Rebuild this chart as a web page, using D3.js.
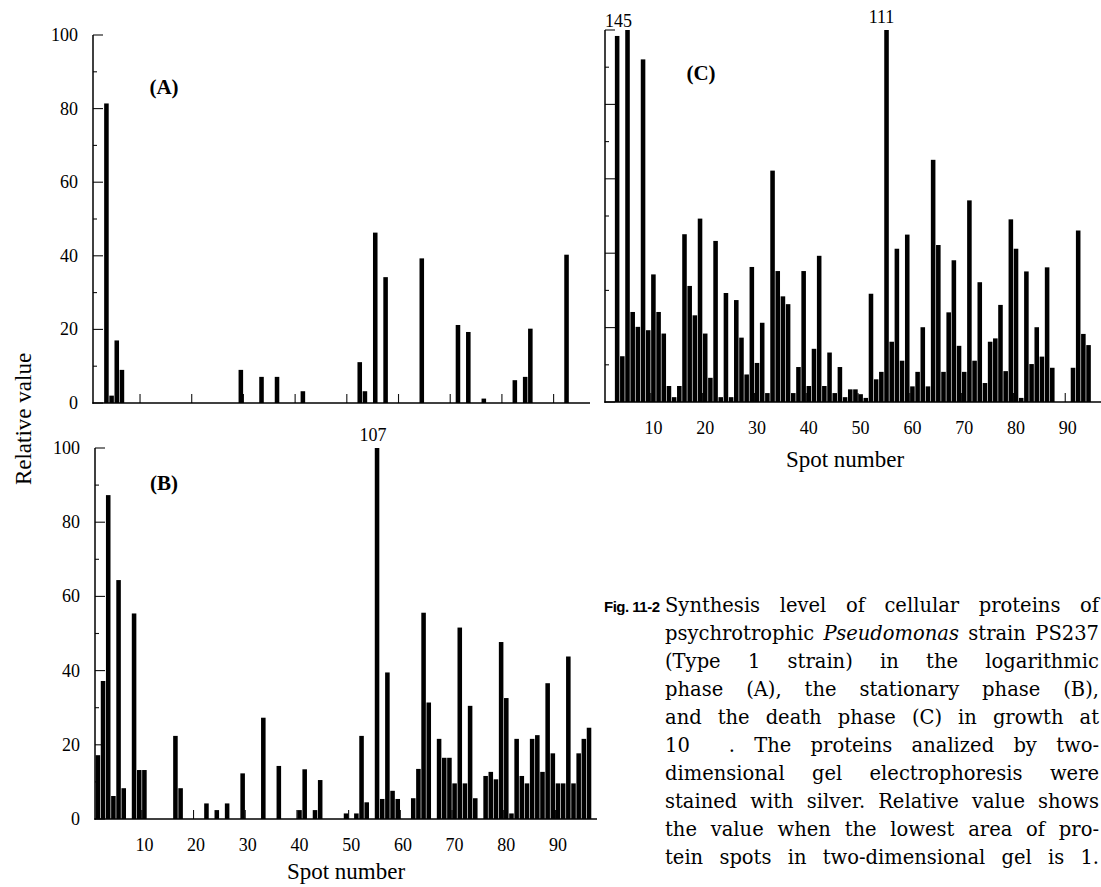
<!DOCTYPE html>
<html><head><meta charset="utf-8">
<script src="https://cdn.jsdelivr.net/npm/d3@7"></script>
<style>body{margin:0;background:#fff}svg{display:block}</style>
</head><body>
<svg id="fig" width="1101" height="887"></svg>
<script>
// ---------- data ----------
const spotNumbers = d3.range(1, 97);          // x categories (spot numbers 1..96)
const xTickValues = [10, 20, 30, 40, 50, 60, 70, 80, 90];
const yTickValues = [0, 10, 20, 30, 40, 50, 60, 70, 80, 90, 100];
const yLabelValues = [0, 20, 40, 60, 80, 100];

// (A) logarithmic phase
const spotsA  = [3, 4, 5, 6, 29, 33, 36, 41, 52, 53, 55, 57, 64, 71, 73, 76, 82, 84, 85, 92];
const valuesA = [81.4, 2, 17, 9, 9, 7.1, 7.1, 3.2, 11.1, 3.2, 46.3, 34.2, 39.3, 21.2, 19.3, 1.2, 6.2, 7.1, 20.2, 40.3];

// (B) stationary phase
const spotsB  = [1, 2, 3, 4, 5, 6, 8, 9, 10, 16, 17, 22, 24, 26, 29, 33, 36, 40, 41, 43, 44,
                 49, 51, 52, 53, 55, 56, 57, 58, 59, 62, 63, 64, 65, 67, 68, 69, 70, 71, 72, 73, 74,
                 76, 77, 78, 79, 80, 81, 82, 83, 84, 85, 86, 87, 88, 89, 90, 91, 92, 93, 94, 95, 96];
const valuesB = [17.2, 37.2, 87.3, 6.2, 64.4, 8.3, 55.4, 13.2, 13.2, 22.4, 8.3, 4.2, 2.4, 4.2, 12.3, 27.3, 14.3, 2.4, 13.4, 2.4, 10.5,
                 1.5, 1.5, 22.4, 4.5, 107, 5.4, 39.5, 7.6, 5.4, 5.6, 13.5, 55.6, 31.4, 21.6, 16.5, 16.5, 9.6, 51.6, 9.6, 30.5, 5.6,
                 11.6, 12.7, 10.7, 47.7, 32.6, 1.5, 21.6, 11.6, 9.6, 21.6, 22.6, 12.7, 36.6, 17.7, 9.6, 9.6, 43.8, 9.6, 17.7, 21.6, 24.6];

// (C) death phase
const spotsC  = [3, 4, 5, 6, 7, 8, 9, 10, 11, 12, 13, 14, 15, 16, 17, 18, 19, 20, 21, 22, 23, 24, 25, 26, 27, 28, 29, 30,
                 31, 32, 33, 34, 35, 36, 37, 38, 39, 40, 41, 42, 43, 44, 45, 46, 47, 48, 49, 50, 51, 52, 53, 54, 55, 56, 57, 58,
                 59, 60, 61, 62, 63, 64, 65, 66, 67, 68, 69, 70, 71, 72, 73, 74, 75, 76, 77, 78, 79, 80, 81, 82, 83, 84, 85, 86, 87,
                 91, 92, 93, 94];
const valuesC = [98.4, 12.3, 145, 24.2, 20.2, 92.1, 19.3, 34.3, 24.2, 18.4, 4.3, 1.3, 4.3, 45.1, 31.2, 23.3, 49.3, 18.4, 6.5, 43.3, 1.3, 29.3, 1.3, 27.4, 17.3, 7.4, 36.3, 10.5,
                 21.3, 2.4, 62.2, 35.2, 28.4, 26.3, 2.4, 9.4, 35.2, 4.3, 14.3, 39.3, 4.3, 13.3, 2.4, 9.4, 1.3, 3.4, 3.4, 2.1, 1.1, 29.1, 6.1, 8.1, 111, 16.2, 41.2, 11.1,
                 45.0, 4.2, 8.1, 20.1, 4.2, 65.1, 42.2, 8.1, 24.1, 38.1, 15.1, 8.1, 54.2, 11.1, 32.2, 5.1, 16.2, 17.1, 26.1, 8.3, 49.1, 41.2, 1.1, 35.1, 10.2, 20.1, 12.2, 36.2, 9.2,
                 9.2, 46.1, 18.3, 15.3];

const panelNames = ["(A)", "(B)", "(C)"];
const axisTitleX = "Spot number";
const axisTitleY = "Relative value";

const captionLabel = "Fig. 11-2";
const captionLines = [
  "Synthesis level of cellular proteins of",
  "psychrotrophic *Pseudomonas* strain PS237",
  "(Type 1 strain) in the logarithmic",
  "phase (A), the stationary phase (B),",
  "and the death phase (C) in growth at",
  "10\u2003\u2003. The proteins analized by two-",
  "dimensional gel electrophoresis were",
  "stained with silver. Relative value shows",
  "the value when the lowest area of pro-",
  "tein spots in two-dimensional gel is 1."
];

// ---------- layout ----------
const layout = {
  A: {x0: 93.5, x1: 589.8, yb: 403, yt: 35, ax: 93, baseEnd: 590, yLabels: true, xLabels: false,
      name: {x: 164, y: 94}},
  B: {x0: 95.3, x1: 591.6, yb: 819, yt: 448, ax: 95, baseEnd: 597, yLabels: true, xLabels: true,
      name: {x: 164, y: 490}, title: {x: 346, y: 879}},
  C: {x0: 604.2, x1: 1101.5, yb: 402, yt: 30, ax: 605, baseEnd: 1101, yLabels: false, xLabels: true,
      name: {x: 701, y: 80}, title: {x: 845, y: 467}}
};
const overflowLabels = [
  {panel: "B", spot: 55, dx: -4, dy: -7},
  {panel: "C", spot: 5, dx: -9, dy: -3},
  {panel: "C", spot: 55, dx: -5, dy: -7}
];

const SERIF = "'Liberation Serif','Times New Roman',serif";
const svg = d3.select("#fig");

function drawPanel(key, spots, values, nameIdx) {
  const L = layout[key];
  const g = svg.append("g");
  const x = d3.scaleBand().domain(spotNumbers).range([L.x0, L.x1]).paddingInner(0.12).paddingOuter(0.06);
  const y = d3.scaleLinear().domain([0, 100]).range([L.yb, L.yt]).clamp(true);
  const data = spots.map((s, i) => ({spot: s, value: values[i]}));

  // y ticks (inward)
  g.selectAll("line.yt").data(yTickValues).join("line")
    .attr("x1", L.ax).attr("x2", d => L.ax + (d % 20 === 0 ? 10 : 4))
    .attr("y1", d => y(d)).attr("y2", d => y(d))
    .attr("stroke", "#111").attr("stroke-width", 1.1);
  // x ticks (inward, at band boundaries)
  g.selectAll("line.xt").data(xTickValues).join("line")
    .attr("x1", d => x(d) + x.bandwidth() / 2 - x.step() / 2)
    .attr("x2", d => x(d) + x.bandwidth() / 2 - x.step() / 2)
    .attr("y1", L.yb).attr("y2", L.yb - 9)
    .attr("stroke", "#111").attr("stroke-width", 1.1);

  // bars
  g.selectAll("rect.bar").data(data).join("rect")
    .attr("x", d => x(d.spot)).attr("width", x.bandwidth())
    .attr("y", d => y(d.value)).attr("height", d => L.yb - y(d.value))
    .attr("fill", "#000");

  // axis lines
  g.append("line").attr("x1", L.ax).attr("x2", L.ax).attr("y1", L.yt).attr("y2", L.yb + 0.8)
    .attr("stroke", "#000").attr("stroke-width", 1.5);
  g.append("line").attr("x1", L.ax - 0.7).attr("x2", L.baseEnd).attr("y1", L.yb).attr("y2", L.yb)
    .attr("stroke", "#000").attr("stroke-width", 1.7);

  if (L.yLabels) {
    g.selectAll("text.yl").data(yLabelValues).join("text")
      .attr("x", L.ax - 15).attr("y", d => y(d) + 6)
      .attr("text-anchor", "end").attr("font-family", SERIF).attr("font-size", 18)
      .text(d => d);
  }
  if (L.xLabels) {
    g.selectAll("text.xl").data(xTickValues).join("text")
      .attr("x", d => x(d) + x.bandwidth() / 2).attr("y", L.yb + 32)
      .attr("text-anchor", "middle").attr("font-family", SERIF).attr("font-size", 18)
      .text(d => d);
    g.append("text").attr("x", L.title.x).attr("y", L.title.y)
      .attr("text-anchor", "middle").attr("font-family", SERIF).attr("font-size", 23)
      .text(axisTitleX);
  }
  g.append("text").attr("x", L.name.x).attr("y", L.name.y)
    .attr("text-anchor", "middle").attr("font-family", SERIF).attr("font-size", 21)
    .attr("font-weight", "bold").text(panelNames[nameIdx]);

  // values above clipped bars
  overflowLabels.filter(o => o.panel === key).forEach(o => {
    const v = values[spots.indexOf(o.spot)];
    g.append("text").attr("x", x(o.spot) + x.bandwidth() / 2 + o.dx).attr("y", y(v) + o.dy)
      .attr("text-anchor", "middle").attr("font-family", SERIF).attr("font-size", 18)
      .text(v);
  });
}

drawPanel("A", spotsA, valuesA, 0);
drawPanel("B", spotsB, valuesB, 1);
drawPanel("C", spotsC, valuesC, 2);

// y axis title
svg.append("text").attr("transform", "translate(31,419) rotate(-90)")
  .attr("text-anchor", "middle").attr("font-family", SERIF).attr("font-size", 23)
  .text(axisTitleY);

// caption
const capX = 665, capY0 = 612, capStep = 28, capEnd = 1099;
svg.append("text").attr("x", 604).attr("y", capY0)
  .attr("font-family", "'Liberation Sans',Arial,sans-serif").attr("font-size", 15).attr("font-weight", "bold")
  .attr("letter-spacing", -0.5)
  .text(captionLabel);
captionLines.forEach((line, i) => {
  const t = svg.append("text").attr("x", capX).attr("y", capY0 + i * capStep)
    .attr("font-family", "'DejaVu Serif',serif").attr("font-size", 19.5)
    .style("white-space", "pre");
  line.split("*").forEach((seg, j) => {
    t.append("tspan").attr("font-style", j % 2 ? "italic" : "normal").text(seg);
  });
  const natural = t.node().getComputedTextLength();
  const spaces = (line.match(/ /g) || []).length;
  const target = capEnd - capX;
  const minGap = 2 * spaces;
  if (natural + minGap > target) {
    t.attr("textLength", target).attr("lengthAdjust", "spacingAndGlyphs");
  } else if (spaces > 0) {
    t.attr("word-spacing", (target - natural) / spaces);
  }
});
</script>
</body></html>
